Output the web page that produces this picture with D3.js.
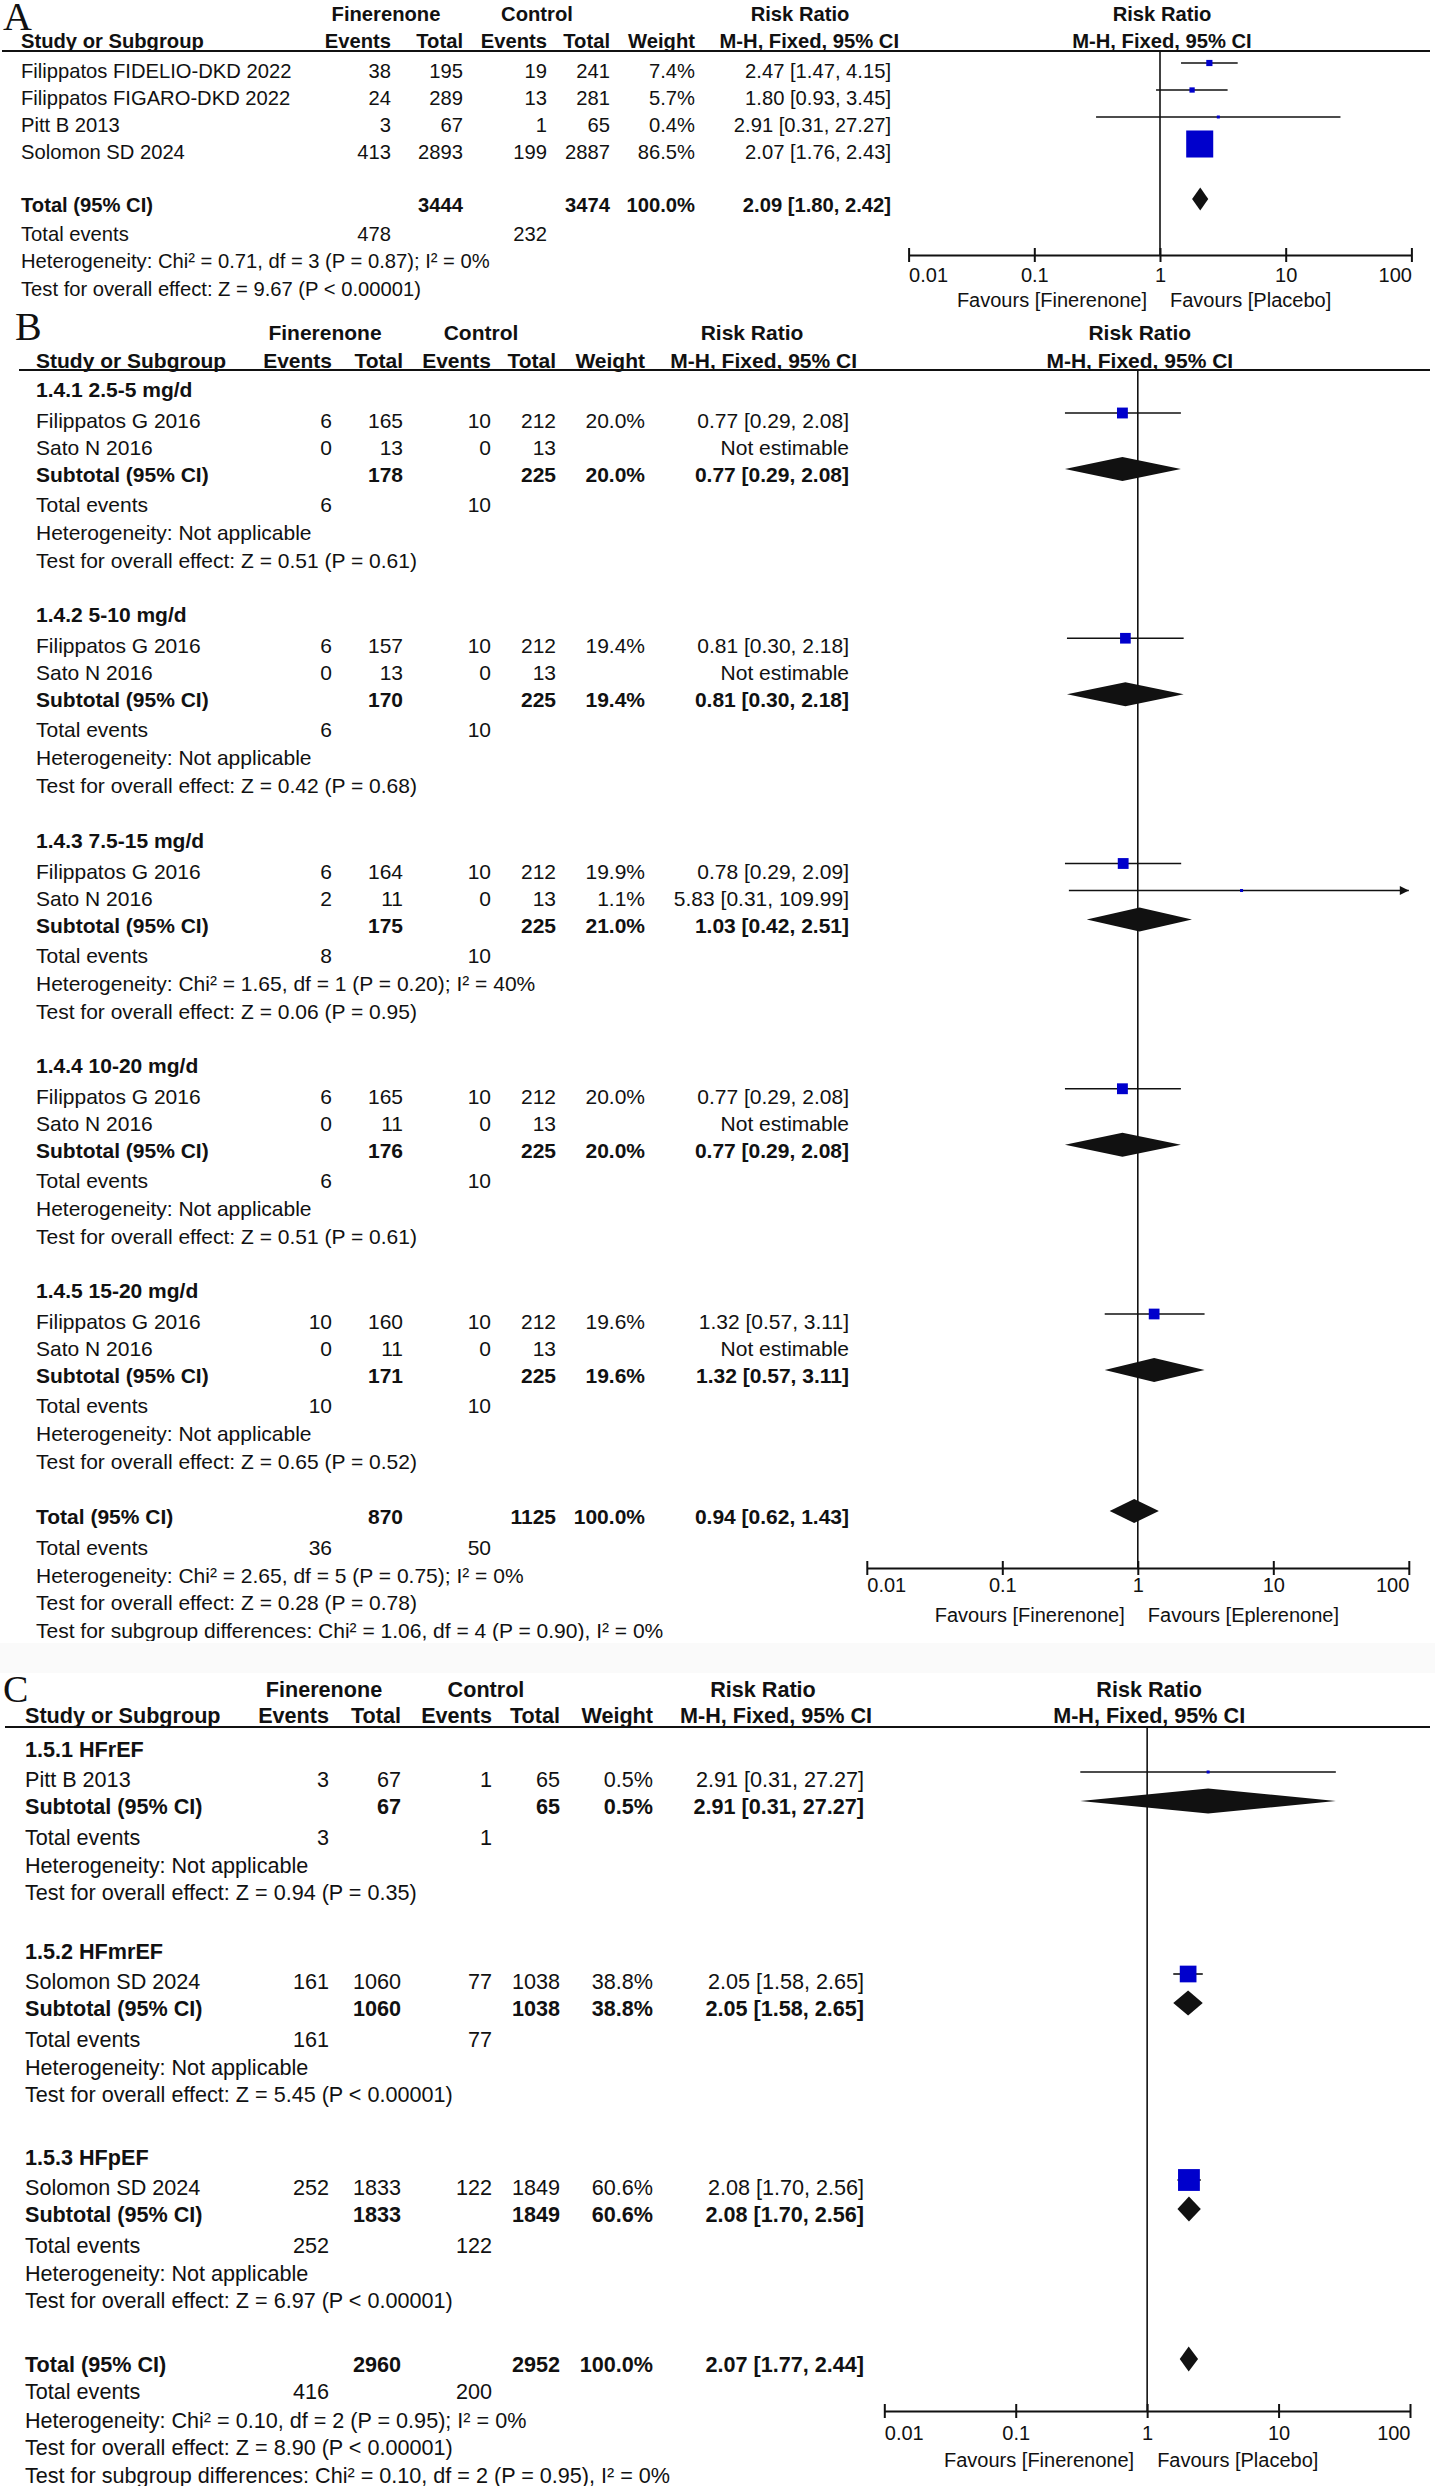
<!DOCTYPE html>
<html><head><meta charset="utf-8">
<script src="https://cdn.jsdelivr.net/npm/d3@7"></script>
<style>
html,body{margin:0;padding:0;background:#fff;}
svg{display:block;}
text{font-family:"Liberation Sans",Arial,Helvetica,sans-serif;fill:#111;}
</style></head><body>
<svg id="chart" width="1435" height="2491"></svg>
<script>
// ---------- shared ----------
const ticks = [0.01, 0.1, 1, 10, 100];
const tickLabels = ["0.01", "0.1", "1", "10", "100"];
const panelLetters = ["A", "B", "C"];
const favoursLeft = ["Favours [Finerenone]", "Favours [Finerenone]", "Favours [Finerenone]"];
const favoursRight = ["Favours [Placebo]", "Favours [Eplerenone]", "Favours [Placebo]"];

// ---------- Panel A ----------
const studyA = ["Filippatos FIDELIO-DKD 2022", "Filippatos FIGARO-DKD 2022", "Pitt B 2013", "Solomon SD 2024"];
const finEventsA = [38, 24, 3, 413];
const finTotalA = [195, 289, 67, 2893];
const ctlEventsA = [19, 13, 1, 199];
const ctlTotalA = [241, 281, 65, 2887];
const weightA = [7.4, 5.7, 0.4, 86.5];
const rrA = [2.47, 1.80, 2.91, 2.07];
const lowA = [1.47, 0.93, 0.31, 1.76];
const highA = [4.15, 3.45, 27.27, 2.43];

// ---------- Panel B ----------
const subgroupsB = ["1.4.1 2.5-5 mg/d", "1.4.2 5-10 mg/d", "1.4.3 7.5-15 mg/d", "1.4.4 10-20 mg/d", "1.4.5 15-20 mg/d"];
const studyB = ["Filippatos G 2016", "Sato N 2016", "Filippatos G 2016", "Sato N 2016", "Filippatos G 2016", "Sato N 2016", "Filippatos G 2016", "Sato N 2016", "Filippatos G 2016", "Sato N 2016"];
const groupB = [0, 0, 1, 1, 2, 2, 3, 3, 4, 4];
const finEventsB = [6, 0, 6, 0, 6, 2, 6, 0, 10, 0];
const finTotalB = [165, 13, 157, 13, 164, 11, 165, 11, 160, 11];
const ctlEventsB = [10, 0, 10, 0, 10, 0, 10, 0, 10, 0];
const ctlTotalB = [212, 13, 212, 13, 212, 13, 212, 13, 212, 13];
const weightB = [20.0, null, 19.4, null, 19.9, 1.1, 20.0, null, 19.6, null];
const rrB = [0.77, null, 0.81, null, 0.78, 5.83, 0.77, null, 1.32, null];
const lowB = [0.29, null, 0.30, null, 0.29, 0.31, 0.29, null, 0.57, null];
const highB = [2.08, null, 2.18, null, 2.09, 109.99, 2.08, null, 3.11, null];
const subFinTotalB = [178, 170, 175, 176, 171];
const subCtlTotalB = [225, 225, 225, 225, 225];
const subWeightB = [20.0, 19.4, 21.0, 20.0, 19.6];
const subRrB = [0.77, 0.81, 1.03, 0.77, 1.32];
const subLowB = [0.29, 0.30, 0.42, 0.29, 0.57];
const subHighB = [2.08, 2.18, 2.51, 2.08, 3.11];
const subFinEventsB = [6, 6, 8, 6, 10];
const subCtlEventsB = [10, 10, 10, 10, 10];
const subHetB = ["Heterogeneity: Not applicable", "Heterogeneity: Not applicable", "Heterogeneity: Chi² = 1.65, df = 1 (P = 0.20); I² = 40%", "Heterogeneity: Not applicable", "Heterogeneity: Not applicable"];
const subEffectB = ["Test for overall effect: Z = 0.51 (P = 0.61)", "Test for overall effect: Z = 0.42 (P = 0.68)", "Test for overall effect: Z = 0.06 (P = 0.95)", "Test for overall effect: Z = 0.51 (P = 0.61)", "Test for overall effect: Z = 0.65 (P = 0.52)"];

// ---------- Panel C ----------
const subgroupsC = ["1.5.1 HFrEF", "1.5.2 HFmrEF", "1.5.3 HFpEF"];
const studyC = ["Pitt B 2013", "Solomon SD 2024", "Solomon SD 2024"];
const groupC = [0, 1, 2];
const finEventsC = [3, 161, 252];
const finTotalC = [67, 1060, 1833];
const ctlEventsC = [1, 77, 122];
const ctlTotalC = [65, 1038, 1849];
const weightC = [0.5, 38.8, 60.6];
const rrC = [2.91, 2.05, 2.08];
const lowC = [0.31, 1.58, 1.70];
const highC = [27.27, 2.65, 2.56];
const subFinTotalC = [67, 1060, 1833];
const subCtlTotalC = [65, 1038, 1849];
const subWeightC = [0.5, 38.8, 60.6];
const subRrC = [2.91, 2.05, 2.08];
const subLowC = [0.31, 1.58, 1.70];
const subHighC = [27.27, 2.65, 2.56];
const subFinEventsC = [3, 161, 252];
const subCtlEventsC = [1, 77, 122];
const subHetC = ["Heterogeneity: Not applicable", "Heterogeneity: Not applicable", "Heterogeneity: Not applicable"];
const subEffectC = ["Test for overall effect: Z = 0.94 (P = 0.35)", "Test for overall effect: Z = 5.45 (P < 0.00001)", "Test for overall effect: Z = 6.97 (P < 0.00001)"];

// ---------- Overall totals (A, B, C) ----------
const totFinTotal = [3444, 870, 2960];
const totCtlTotal = [3474, 1125, 2952];
const totWeight = [100.0, 100.0, 100.0];
const totRR = [2.09, 0.94, 2.07];
const totLow = [1.80, 0.62, 1.77];
const totHigh = [2.42, 1.43, 2.44];
const totFinEvents = [478, 36, 416];
const totCtlEvents = [232, 50, 200];
const totHet = ["Heterogeneity: Chi² = 0.71, df = 3 (P = 0.87); I² = 0%", "Heterogeneity: Chi² = 2.65, df = 5 (P = 0.75); I² = 0%", "Heterogeneity: Chi² = 0.10, df = 2 (P = 0.95); I² = 0%"];
const totEffect = ["Test for overall effect: Z = 9.67 (P < 0.00001)", "Test for overall effect: Z = 0.28 (P = 0.78)", "Test for overall effect: Z = 8.90 (P < 0.00001)"];
const subgroupDiff = [null, "Test for subgroup differences: Chi² = 1.06, df = 4 (P = 0.90), I² = 0%", "Test for subgroup differences: Chi² = 0.10, df = 2 (P = 0.95), I² = 0%"];

// ---------- layout (positions only) ----------
const layouts = [
  { letterX: 3, letterY: 30, letterSize: 40, fs: 20.2, h1: 21, h2: 48, hLine: 51, lineX0: 2,
    cols: {study: 21, finEv: 391, finTot: 463, ctlEv: 547, ctlTot: 610, weight: 695, ci: 891},
    finCenter: 386, ctlCenter: 537, rrCenter: 800, x0: 908.6, x1: 1411.4,
    axisY: 255, tickDy: 27, favDy: 52, sqK: 1.86, diaH: 11.5,
    rowStart: 78, rowStep: 27, total: 212, totEv: 241, het: 268, eff: 296 },
  { letterX: 15, letterY: 340, letterSize: 40, fs: 21, h1: 340, h2: 368, hLine: 370, lineX0: 19,
    cols: {study: 36, finEv: 332, finTot: 403, ctlEv: 491, ctlTot: 556, weight: 645, ci: 849},
    finCenter: 325, ctlCenter: 481, rrCenter: 752, x0: 866.8, x1: 1408.8,
    axisY: 1568, tickDy: 24, favDy: 54, sqK: 1.8, diaH: 12,
    groupStart: 397, groupStep: 225.25, offsets: [0, 31, 58, 85, 115, 143, 171],
    total: 1524, totEv: 1555, het: 1583, eff: 1610, diff: 1638, clipTop: 300, clipBottom: 1641 },
  { letterX: 3, letterY: 1702, letterSize: 38, fs: 21.6, h1: 1697, h2: 1723, hLine: 1727, lineX0: 5,
    cols: {study: 25, finEv: 329, finTot: 401, ctlEv: 492, ctlTot: 560, weight: 653, ci: 864},
    finCenter: 324, ctlCenter: 486, rrCenter: 763, x0: 884.3, x1: 1410,
    axisY: 2411, tickDy: 29, favDy: 56, sqK: 1.86, diaH: 12.5,
    groupYs: [1757, 1959, 2165], offsets: [0, 30, 57, 88, 116, 143],
    total: 2372, totEv: 2399, het: 2428, eff: 2455, diff: 2483, clipTop: 1642, clipBottom: 2486 }
];

const svg = d3.select("#chart");
const INK = "#111";
const BLUE = "#0000cc";
const fmtW = d3.format(".1f");
const f2 = d3.format(".2f");
const ciText = (r, l, h) => `${f2(r)} [${f2(l)}, ${f2(h)}]`;
const defs = svg.append("defs");

// very faint band between panels B and C, as in the source image
svg.append("rect").attr("x", 0).attr("y", 1643).attr("width", 1435).attr("height", 30).attr("fill", "#fafafa");

function makePanel(p) {
  const L = layouts[p];
  const g = svg.append("g");
  if (L.clipBottom) {
    defs.append("clipPath").attr("id", "clip" + p).append("rect")
      .attr("x", 0).attr("y", L.clipTop).attr("width", 1435).attr("height", L.clipBottom - L.clipTop);
    g.attr("clip-path", `url(#clip${p})`);
  }
  const x = d3.scaleLog().domain([ticks[0], ticks[ticks.length - 1]]).range([L.x0, L.x1]);
  const plotMid = (L.x0 + L.x1) / 2 + 2;
  const C = L.cols;
  const T = (xx, yy, s, anchor = "start", bold = false, size = L.fs) =>
    g.append("text").attr("x", xx).attr("y", yy).attr("text-anchor", anchor)
      .style("font-size", size + "px").style("font-weight", bold ? "bold" : "normal").text(s);

  // letter
  g.append("text").attr("x", L.letterX).attr("y", L.letterY)
    .style("font-family", '"Liberation Serif","Times New Roman",serif').style("font-size", L.letterSize + "px")
    .text(panelLetters[p]);

  // headers
  T(L.finCenter, L.h1, "Finerenone", "middle", true);
  T(L.ctlCenter, L.h1, "Control", "middle", true);
  T(L.rrCenter, L.h1, "Risk Ratio", "middle", true);
  T(plotMid, L.h1, "Risk Ratio", "middle", true);
  T(C.study, L.h2, "Study or Subgroup", "start", true);
  T(C.finEv, L.h2, "Events", "end", true);
  T(C.finTot, L.h2, "Total", "end", true);
  T(C.ctlEv, L.h2, "Events", "end", true);
  T(C.ctlTot, L.h2, "Total", "end", true);
  T(C.weight, L.h2, "Weight", "end", true);
  T(C.ci + 8, L.h2, "M-H, Fixed, 95% CI", "end", true);
  T(plotMid, L.h2, "M-H, Fixed, 95% CI", "middle", true);
  g.append("line").attr("x1", L.lineX0).attr("x2", 1430).attr("y1", L.hLine).attr("y2", L.hLine)
    .attr("stroke", INK).attr("stroke-width", 2);

  // null line
  g.append("line").attr("x1", x(1)).attr("x2", x(1)).attr("y1", L.hLine).attr("y2", L.axisY)
    .attr("stroke", INK).attr("stroke-width", 1.6);

  // axis
  const ax = d3.axisBottom(x).tickValues(ticks).tickFormat((d, i) => tickLabels[i]).tickSizeInner(7).tickSizeOuter(0);
  const a = g.append("g").attr("transform", `translate(0,${L.axisY})`).call(ax);
  a.attr("font-size", null).attr("font-family", null);
  a.select(".domain").attr("stroke", INK).attr("stroke-width", 2);
  a.selectAll(".tick line").attr("y1", -7).attr("y2", 7).attr("stroke", INK).attr("stroke-width", 2);
  a.selectAll(".tick text").attr("y", L.tickDy).attr("dy", null).attr("fill", INK)
    .style("font-size", "20px")
    .attr("text-anchor", (d, i) => i === 0 ? "start" : i === ticks.length - 1 ? "end" : "middle");
  T(x(1) - 13, L.axisY + L.favDy, favoursLeft[p], "end", false, 20);
  T(x(1) + 10, L.axisY + L.favDy, favoursRight[p], "start", false, 20);

  const markDy = 15, diaDy = 13;
  function studyRow(y, name, fe, ft, ce, ct, w, r, lo, hi) {
    T(C.study, y, name);
    T(C.finEv, y, fe, "end"); T(C.finTot, y, ft, "end");
    T(C.ctlEv, y, ce, "end"); T(C.ctlTot, y, ct, "end");
    if (w != null) T(C.weight, y, fmtW(w) + "%", "end");
    T(C.ci, y, r == null ? "Not estimable" : ciText(r, lo, hi), "end");
    if (r == null) return;
    const my = y - markDy;
    const maxV = ticks[ticks.length - 1];
    const xr = x(Math.min(hi, maxV));
    g.append("line").attr("x1", x(lo)).attr("x2", xr).attr("y1", my).attr("y2", my)
      .attr("stroke", INK).attr("stroke-width", 1.6);
    if (hi > maxV) {
      g.append("path").attr("d", `M${xr},${my}L${xr - 9},${my - 4.5}L${xr - 9},${my + 4.5}Z`).attr("fill", INK);
    }
    const side = Math.max(3, L.sqK * Math.pow(w, 0.6));
    g.append("rect").attr("x", x(r) - side / 2).attr("y", my - side / 2)
      .attr("width", side).attr("height", side).attr("fill", BLUE);
  }
  function diamondRow(y, label, ft, ct, w, r, lo, hi) {
    T(C.study, y, label, "start", true);
    T(C.finTot, y, ft, "end", true); T(C.ctlTot, y, ct, "end", true);
    T(C.weight, y, fmtW(w) + "%", "end", true);
    T(C.ci, y, ciText(r, lo, hi), "end", true);
    const my = y - diaDy, h = L.diaH;
    g.append("path").attr("d", d3.line()([[x(lo), my], [x(r), my - h], [x(hi), my], [x(r), my + h]]) + "Z")
      .attr("fill", INK);
  }
  function eventsRow(y, fe, ce) {
    T(C.study, y, "Total events");
    T(C.finEv, y, fe, "end"); T(C.ctlEv, y, ce, "end");
  }
  return { L, T, studyRow, diamondRow, eventsRow };
}

// ---- Panel A ----
(function () {
  const P = makePanel(0), L = P.L;
  studyA.forEach((s, i) => P.studyRow(L.rowStart + i * L.rowStep, s, finEventsA[i], finTotalA[i], ctlEventsA[i], ctlTotalA[i], weightA[i], rrA[i], lowA[i], highA[i]));
  P.diamondRow(L.total, "Total (95% CI)", totFinTotal[0], totCtlTotal[0], totWeight[0], totRR[0], totLow[0], totHigh[0]);
  P.eventsRow(L.totEv, totFinEvents[0], totCtlEvents[0]);
  P.T(L.cols.study, L.het, totHet[0]);
  P.T(L.cols.study, L.eff, totEffect[0]);
})();

// ---- Panel B ----
(function () {
  const P = makePanel(1), L = P.L, o = L.offsets;
  subgroupsB.forEach((lab, gi) => {
    const y0 = L.groupStart + gi * L.groupStep;
    P.T(L.cols.study, y0, lab, "start", true);
    let k = 1;
    studyB.forEach((s, i) => {
      if (groupB[i] !== gi) return;
      P.studyRow(y0 + o[k++], s, finEventsB[i], finTotalB[i], ctlEventsB[i], ctlTotalB[i], weightB[i], rrB[i], lowB[i], highB[i]);
    });
    P.diamondRow(y0 + o[3], "Subtotal (95% CI)", subFinTotalB[gi], subCtlTotalB[gi], subWeightB[gi], subRrB[gi], subLowB[gi], subHighB[gi]);
    P.eventsRow(y0 + o[4], subFinEventsB[gi], subCtlEventsB[gi]);
    P.T(L.cols.study, y0 + o[5], subHetB[gi]);
    P.T(L.cols.study, y0 + o[6], subEffectB[gi]);
  });
  P.diamondRow(L.total, "Total (95% CI)", totFinTotal[1], totCtlTotal[1], totWeight[1], totRR[1], totLow[1], totHigh[1]);
  P.eventsRow(L.totEv, totFinEvents[1], totCtlEvents[1]);
  P.T(L.cols.study, L.het, totHet[1]);
  P.T(L.cols.study, L.eff, totEffect[1]);
  P.T(L.cols.study, L.diff, subgroupDiff[1]);
})();

// ---- Panel C ----
(function () {
  const P = makePanel(2), L = P.L, o = L.offsets;
  subgroupsC.forEach((lab, gi) => {
    const y0 = L.groupYs[gi];
    P.T(L.cols.study, y0, lab, "start", true);
    let k = 1;
    studyC.forEach((s, i) => {
      if (groupC[i] !== gi) return;
      P.studyRow(y0 + o[k++], s, finEventsC[i], finTotalC[i], ctlEventsC[i], ctlTotalC[i], weightC[i], rrC[i], lowC[i], highC[i]);
    });
    P.diamondRow(y0 + o[2], "Subtotal (95% CI)", subFinTotalC[gi], subCtlTotalC[gi], subWeightC[gi], subRrC[gi], subLowC[gi], subHighC[gi]);
    P.eventsRow(y0 + o[3], subFinEventsC[gi], subCtlEventsC[gi]);
    P.T(L.cols.study, y0 + o[4], subHetC[gi]);
    P.T(L.cols.study, y0 + o[5], subEffectC[gi]);
  });
  P.diamondRow(L.total, "Total (95% CI)", totFinTotal[2], totCtlTotal[2], totWeight[2], totRR[2], totLow[2], totHigh[2]);
  P.eventsRow(L.totEv, totFinEvents[2], totCtlEvents[2]);
  P.T(L.cols.study, L.het, totHet[2]);
  P.T(L.cols.study, L.eff, totEffect[2]);
  P.T(L.cols.study, L.diff, subgroupDiff[2]);
})();
</script>
</body></html>
